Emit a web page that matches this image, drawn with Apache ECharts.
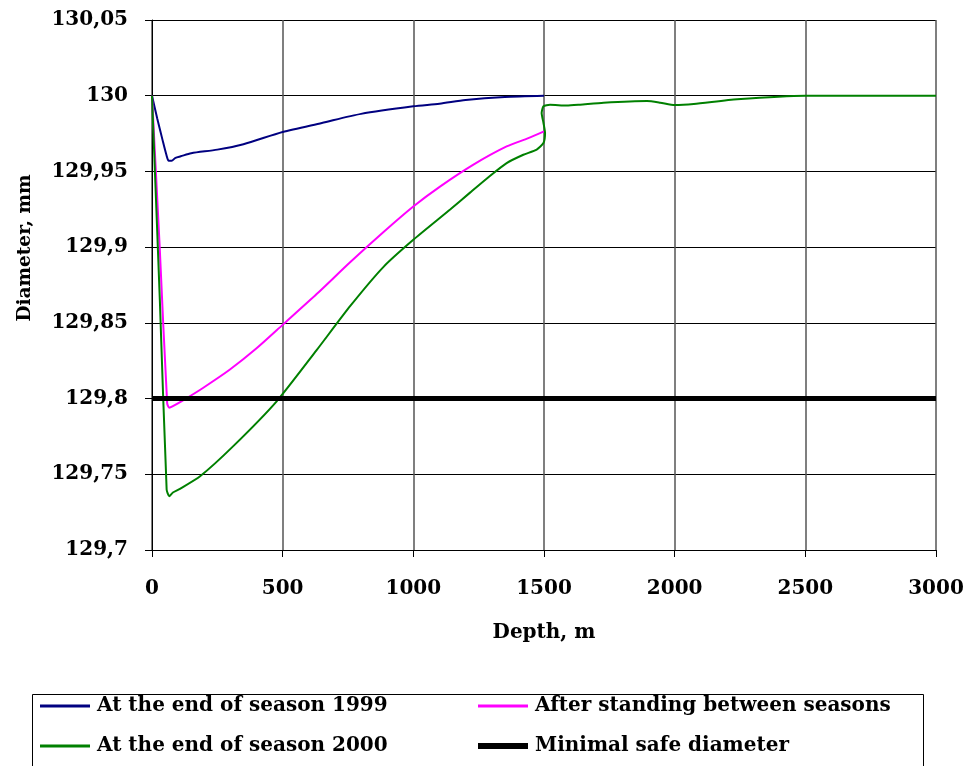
<!DOCTYPE html>
<html>
<head>
<meta charset="utf-8">
<script src="https://cdn.jsdelivr.net/npm/echarts@6/dist/echarts.min.js"></script>
<style>
html,body{margin:0;padding:0;background:#fff;}
#chart{width:971px;height:766px;}
</style>
</head>
<body>
<div id="chart"></div>
<script>
// ---- data ----
var xTicks = [0, 500, 1000, 1500, 2000, 2500, 3000];
var yTicks = [129.7, 129.75, 129.8, 129.85, 129.9, 129.95, 130, 130.05];

var depth1999 = [0, 20, 40, 55, 64, 75, 90, 110, 150, 250, 350, 500, 650, 800, 1000, 1100, 1200, 1350, 1500];
var diam1999  = [130, 129.985, 129.971, 129.961, 129.957, 129.957, 129.959, 129.960, 129.962, 129.9644, 129.968, 129.976, 129.982, 129.988, 129.993, 129.9947, 129.9972, 129.9992, 130];

var depthStand = [0, 30, 58, 66, 80, 130, 195, 297, 399, 502, 630, 758, 886, 1001, 1102, 1230, 1357, 1440, 1500];
var diamStand  = [130, 129.898, 129.797, 129.794, 129.795, 129.800, 129.807, 129.819, 129.833, 129.849, 129.869, 129.890, 129.910, 129.927, 129.940, 129.9545, 129.9665, 129.972, 129.9765];

var depth2000 = [0, 30, 56, 66, 80, 107, 184, 311, 477, 630, 758, 886, 1001, 1142, 1217, 1293, 1357, 1421, 1472, 1498, 1504, 1498, 1491, 1498, 1523, 1587, 1638, 1728, 1894, 1945, 2000, 2073, 2239, 2500, 3000];
var diam2000  = [130, 129.865, 129.740, 129.7355, 129.738, 129.7404, 129.7487, 129.7686, 129.7982, 129.832, 129.861, 129.887, 129.905, 129.925, 129.936, 129.947, 129.9555, 129.961, 129.9644, 129.9688, 129.9754, 129.982, 129.9886, 129.993, 129.994, 129.9935, 129.9941, 129.9954, 129.9965, 129.9954, 129.9938, 129.9945, 129.9976, 130, 130];

var depthMin = [0, 3000];
var diamMin  = [129.8, 129.8];

var seriesNames = ['At the end of season 1999', 'After standing between seasons', 'At the end of season 2000', 'Minimal safe diameter'];
var seriesColors = ['#000080', '#FF00FF', '#008000', '#000000'];

function pairs(xs, ys) { return xs.map(function (x, i) { return [x, ys[i]]; }); }

var FONT = 'DejaVu Serif';
var chart = echarts.init(document.getElementById('chart'), null, {renderer: 'canvas'});

function lineSeries(idx, xs, ys, width, smooth) {
  return {
    name: seriesNames[idx], type: 'line', data: pairs(xs, ys),
    symbol: 'none', showSymbol: false, smooth: smooth, animation: false,
    lineStyle: {color: seriesColors[idx], width: width},
    itemStyle: {color: seriesColors[idx]}
  };
}

function legendItem(idx, left, top, h) {
  return {
    data: [seriesNames[idx]], orient: 'vertical', left: left, top: top, padding: 0,
    icon: 'rect', itemWidth: 50, itemHeight: h, itemGap: 0, selectedMode: false,
    itemStyle: {color: seriesColors[idx], borderWidth: 0},
    textStyle: {fontFamily: FONT, fontWeight: 'bold', fontSize: 20, color: '#000', lineHeight: 22, padding: [0, 0, 0, 2]}
  };
}

chart.setOption({
  backgroundColor: '#fff',
  animation: false,
  grid: {left: 152, right: 35, top: 20, bottom: 216, containLabel: false},
  xAxis: {
    type: 'value', min: xTicks[0], max: xTicks[xTicks.length - 1], interval: 500,
    name: 'Depth, m', nameLocation: 'middle', nameGap: 73,
    nameTextStyle: {fontFamily: FONT, fontWeight: 'bold', fontSize: 20, color: '#000'},
    axisLine: {show: true, onZero: false, lineStyle: {color: '#000', width: 1}},
    axisTick: {show: true, inside: false, length: 7, lineStyle: {color: '#000'}},
    axisLabel: {margin: 29, fontFamily: FONT, fontWeight: 'bold', fontSize: 20, color: '#000',
      formatter: function (v) { return String(v); }},
    splitLine: {show: true, lineStyle: {color: '#555', width: 1.5}}
  },
  yAxis: {
    type: 'value', min: yTicks[0], max: yTicks[yTicks.length - 1], interval: 0.05,
    name: 'Diameter, mm', nameLocation: 'middle', nameGap: 117, nameRotate: 90,
    nameTextStyle: {fontFamily: FONT, fontWeight: 'bold', fontSize: 18.5, color: '#000', padding: [0, 0, 0, 74]},
    axisLine: {show: true, onZero: false, lineStyle: {color: '#000', width: 1}},
    axisTick: {show: true, inside: false, length: 7, lineStyle: {color: '#000'}},
    axisLabel: {
      margin: 24, fontFamily: FONT, fontWeight: 'bold', fontSize: 20, color: '#000',
      formatter: function (v) { return String(parseFloat(v.toFixed(2))).replace('.', ','); }
    },
    splitLine: {show: true, lineStyle: {color: '#000', width: 1}}
  },
  legend: [
    legendItem(0, 40, 695, 3),
    legendItem(2, 40, 735, 3),
    legendItem(1, 478, 695, 3),
    legendItem(3, 478, 735, 6)
  ],
  graphic: [{
    type: 'rect', left: 30, top: 692, silent: true,
    shape: {width: 891, height: 100},
    style: {fill: 'none', stroke: '#000', lineWidth: 1}
  }],
  series: [
    lineSeries(0, depth1999, diam1999, 2, 0.25),
    lineSeries(1, depthStand, diamStand, 2, 0.25),
    lineSeries(2, depth2000, diam2000, 2, 0.2),
    lineSeries(3, depthMin, diamMin, 5, false)
  ]
});
</script>
</body>
</html>
